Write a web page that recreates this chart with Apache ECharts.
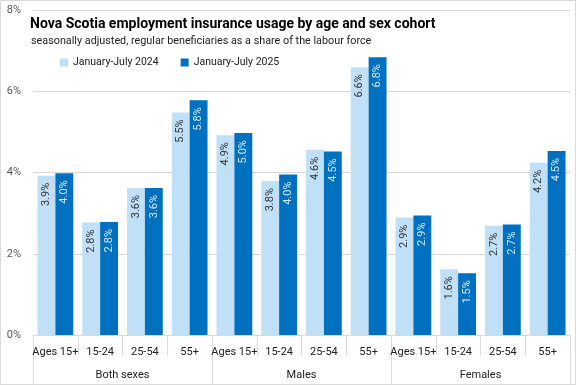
<!DOCTYPE html>
<html>
<head>
<meta charset="utf-8">
<script src="https://cdn.jsdelivr.net/npm/echarts@6/dist/echarts.min.js"></script>
<style>
html,body{margin:0;padding:0;background:#fff;}
#c{width:576px;height:385px;box-sizing:border-box;border:1px solid #d9d9d9;}
</style>
</head>
<body>
<div id="c"></div>
<script>
const categories = ['Ages 15+','15-24','25-54','55+','Ages 15+','15-24','25-54','55+','Ages 15+','15-24','25-54','55+'];
const groups = ['Both sexes','Males','Females'];
const seriesNames = ['January-July 2024','January-July 2025'];
const values2024 = [3.92,2.77,3.62,5.48, 4.92,3.79,4.56,6.59, 2.89,1.62,2.69,4.24];
const values2025 = [3.98,2.78,3.62,5.78, 4.97,3.95,4.52,6.84, 2.94,1.52,2.72,4.53];
const yTicks = {min:0,max:8,interval:2};

const FONT = 'Roboto';
const chart = echarts.init(document.getElementById('c'), null, {renderer:'canvas'});
function lbl(color){
  return {show:true, position:'insideTop', rotate:90, align:'right', verticalAlign:'middle', distance:7,
    formatter:p=>p.value.toFixed(1)+'%', color:color, fontSize:11, fontFamily:FONT};
}
chart.setOption({
  animation:false,
  textStyle:{fontFamily:FONT},
  title:[
    {text:'Nova Scotia employment insurance usage by age and sex cohort', left:29, top:16, padding:0,
     textStyle:{fontSize:14, fontWeight:'bold', color:'#000', fontFamily:FONT}},
    {text:'seasonally adjusted, regular beneficiaries as a share of the labour force', left:30, top:35, padding:0,
     textStyle:{fontSize:10.8, fontWeight:'normal', color:'#222', fontFamily:FONT}}
  ],
  legend:{data:seriesNames, left:59, top:56, padding:0, icon:'rect', itemWidth:8, itemHeight:8, itemGap:22,
    textStyle:{fontSize:10.5, color:'#222', fontFamily:FONT}},
  grid:{left:32, right:5, top:9, bottom:49, containLabel:false},
  xAxis:[
    {type:'category', data:categories, position:'bottom',
     axisLine:{show:true, lineStyle:{color:'#d9d9d9'}},
     axisTick:{show:true, interval:0, length:20, lineStyle:{color:'#d9d9d9'}},
     axisLabel:{interval:0, color:'#222', fontSize:11, margin:12, fontFamily:FONT}},
    {type:'category', data:groups, position:'bottom', offset:20,
     axisLine:{show:false},
     axisTick:{show:true, interval:0, length:29, lineStyle:{color:'#d9d9d9'}},
     axisLabel:{interval:0, color:'#222', fontSize:11, margin:15, fontFamily:FONT}}
  ],
  yAxis:{type:'value', min:yTicks.min, max:yTicks.max, interval:yTicks.interval,
    axisLine:{show:false}, axisTick:{show:false},
    axisLabel:{formatter:'{value}%', color:'#595959', fontSize:11, margin:12, align:'right', fontFamily:FONT},
    splitLine:{lineStyle:{color:'#d9d9d9'}}},
  series:[
    {name:seriesNames[0], type:'bar', data:values2024, barGap:'0%', barCategoryGap:'20%',
     itemStyle:{color:'#c0e0f8'}, label:lbl('#333')},
    {name:seriesNames[1], type:'bar', data:values2025, barGap:'0%', barCategoryGap:'20%',
     itemStyle:{color:'#0070c0'}, label:lbl('#d6eafa')}
  ]
});
</script>
</body>
</html>
